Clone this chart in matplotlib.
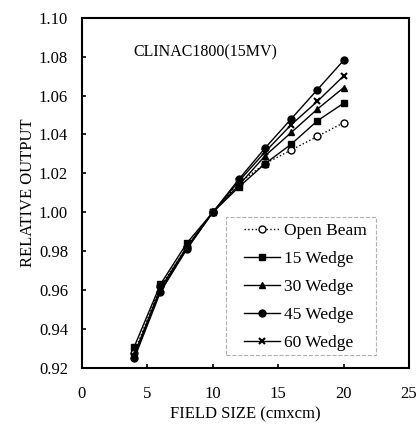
import numpy as np
import matplotlib
matplotlib.use('Agg')
from matplotlib import pyplot as plt
from matplotlib.patches import Rectangle

plt.rcParams['font.family'] = 'Liberation Serif'
plt.rcParams['font.size'] = 12

# field size (cm x cm)
field_size = [4, 6, 8, 10, 12, 14, 16, 18, 20]

# relative output
open_beam = [0.928, 0.962, 0.982, 1.000, 1.015, 1.025, 1.032, 1.039, 1.046]
wedge_15  = [0.931, 0.963, 0.984, 1.000, 1.013, 1.025, 1.035, 1.047, 1.056]
wedge_30  = [0.927, 0.961, 0.982, 1.000, 1.014, 1.029, 1.041, 1.053, 1.064]
wedge_45  = [0.925, 0.959, 0.981, 1.000, 1.017, 1.033, 1.048, 1.063, 1.078]
wedge_60  = [0.926, 0.960, 0.981, 1.000, 1.016, 1.031, 1.045, 1.057, 1.070]

x_ticks = np.arange(0, 26, 5)
y_ticks = np.arange(0.92, 1.101, 0.02)

fig = plt.figure(figsize=(4.16, 4.30), dpi=100)
ax = fig.add_axes([0.197, 0.144, 0.786, 0.815])

ax.plot(field_size, open_beam, ':', color='k', lw=1.0, marker='o', ms=5,
        mfc='white', mec='k', mew=1.0, label='Open Beam')
ax.plot(field_size, wedge_15, '-', color='k', lw=1.0, marker='s', ms=5,
        label='15 Wedge')
ax.plot(field_size, wedge_30, '-', color='k', lw=1.0, marker='^', ms=5,
        label='30 Wedge')
ax.plot(field_size, wedge_45, '-', color='k', lw=1.0, marker='o', ms=5,
        label='45 Wedge')
ax.plot(field_size, wedge_60, '-', color='k', lw=1.0, marker='x', ms=5,
        mew=1.5, label='60 Wedge')

ax.set_xlim(0, 25)
ax.set_ylim(0.92, 1.10)
ax.set_xticks(x_ticks)
ax.set_yticks(y_ticks)
ax.set_yticklabels(['{:.2f}'.format(v) for v in y_ticks])
ax.tick_params(direction='in', length=3, width=1.2)
ax.tick_params(axis='x', pad=13)
ax.tick_params(axis='y', pad=10)
for s in ax.spines.values():
    s.set_linewidth(1.5)

ax.set_xlabel('FIELD SIZE (cmxcm)', labelpad=3)
ax.set_ylabel('RELATIVE OUTPUT', labelpad=2)

ax.text(3.9, 1.082, 'CLINAC1800(15MV)', ha='left', va='center', fontsize=11.5)

# dashed box round the legend
ax.add_patch(Rectangle((0.44, 0.037), 0.46, 0.394, transform=ax.transAxes,
                       fill=False, ec='#b0b0b0', ls='--', lw=0.8))

leg = ax.legend(loc='upper left', bbox_to_anchor=(0.495, 0.414), frameon=False,
                fontsize=12.5, handlelength=2.1, handletextpad=0.2,
                labelspacing=0.68, borderpad=0, borderaxespad=0)

plt.savefig('out.png', dpi=100)
